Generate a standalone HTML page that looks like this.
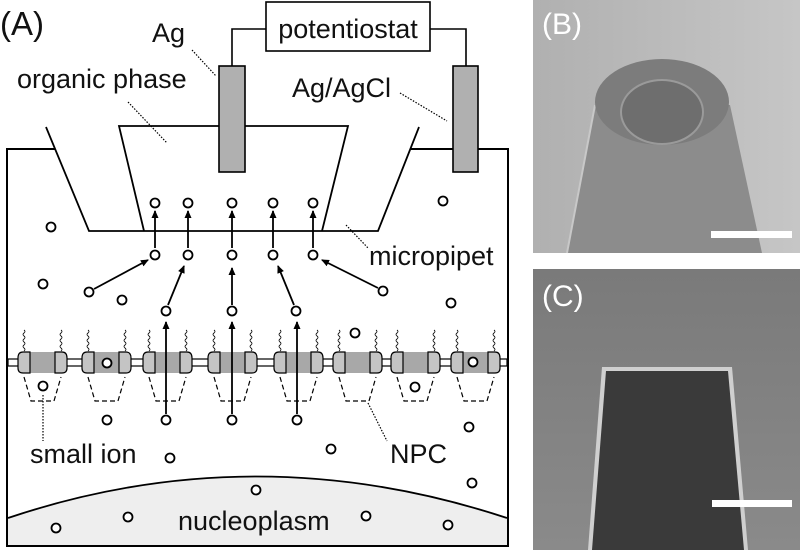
<!DOCTYPE html>
<html><head><meta charset="utf-8"><style>
html,body{margin:0;padding:0;background:#fff;}
svg{display:block;}
text{font-family:"Liberation Sans",Arial,sans-serif;fill:#111;}
</style></head><body>
<svg width="800" height="550" viewBox="0 0 800 550" xmlns="http://www.w3.org/2000/svg">
<defs>
<marker id="ah" markerWidth="8" markerHeight="8" refX="7" refY="4" orient="auto" markerUnits="userSpaceOnUse">
<path d="M0,0.5 L8,4 L0,7.5 Z" fill="#000"/></marker>
<g id="pore">
<rect x="6" y="352" width="37" height="21" fill="#a8a8a8"/>
<path d="M12,352 L5,352 Q0,352 0,358 L0,368 Q0,373 5,373 L12,373 Z" fill="#c4c4c4" stroke="#000" stroke-width="1.2"/>
<path d="M37,352 L44,352 Q49,352 49,358 L49,368 Q49,373 44,373 L37,373 Z" fill="#c4c4c4" stroke="#000" stroke-width="1.2"/>
<path d="M6,330 q2,1.5 0,3 q-2,1.5 0,3 q2,1.5 0,3 q-2,1.5 0,3 q2,1.5 0,3 q-2,1.5 0,3 q2,1.5 0,3" fill="none" stroke="#000" stroke-width="0.8"/>
<path d="M43,330 q2,1.5 0,3 q-2,1.5 0,3 q2,1.5 0,3 q-2,1.5 0,3 q2,1.5 0,3 q-2,1.5 0,3 q2,1.5 0,3" fill="none" stroke="#000" stroke-width="0.8"/>
<path d="M6,377 L13,401 L36,401 L43,377" fill="none" stroke="#000" stroke-width="1.2" stroke-dasharray="5,3"/>
</g>
</defs>

<!-- Panel A -->
<text x="0" y="35" font-size="33">(A)</text>
<rect x="7" y="149" width="501" height="397" fill="none" stroke="#000" stroke-width="2"/>
<!-- nucleoplasm -->
<path d="M8,518 Q255,435 507,518 L507,545 L8,545 Z" fill="#eeeeee" stroke="none"/>
<path d="M8,518 Q255,435 507,518" fill="none" stroke="#000" stroke-width="1.8"/>
<!-- micropipet -->
<path d="M46,127 L89,231 L378,231 L419,127" fill="#fff" stroke="#000" stroke-width="1.8"/>
<path d="M144,231 L119,126 L348,126 L322,231" fill="none" stroke="#000" stroke-width="1.8"/>
<!-- electrodes and wires -->
<path d="M232,66 L232,29 L266,29 M430,29 L466,29 L466,66" fill="none" stroke="#000" stroke-width="1.6"/>
<rect x="266" y="2" width="164" height="49" fill="#fff" stroke="#000" stroke-width="1.6"/>
<text x="348" y="38" font-size="27" text-anchor="middle">potentiostat</text>
<rect x="219" y="66" width="26" height="106" fill="#b0b0b0" stroke="#000" stroke-width="1.6"/>
<rect x="453" y="66" width="25" height="106" fill="#b0b0b0" stroke="#000" stroke-width="1.6"/>
<!-- leaders -->
<g stroke="#000" stroke-width="1.2" stroke-dasharray="1.5,1.5" fill="none">
<path d="M192,50 L216,76"/><path d="M128,102 L167,143"/><path d="M400,93 L447,121"/><path d="M346,225 L368,248"/>
<path d="M43,395 L43,441"/><path d="M368,403 L387,441"/>
</g>
<text x="152" y="42" font-size="27">Ag</text>
<text x="17" y="88" font-size="27">organic phase</text>
<text x="292" y="97" font-size="27">Ag/AgCl</text>
<text x="369" y="265" font-size="27">micropipet</text>
<text x="30" y="463" font-size="27">small ion</text>
<text x="390" y="463" font-size="27">NPC</text>
<text x="178" y="530" font-size="27">nucleoplasm</text>

<!-- membrane -->
<rect x="8" y="359" width="499" height="7" fill="#fff" stroke="#000" stroke-width="1.2"/>
<use href="#pore" x="18"/><use href="#pore" x="82"/><use href="#pore" x="143"/><use href="#pore" x="208"/>
<use href="#pore" x="274"/><use href="#pore" x="333"/><use href="#pore" x="391"/><use href="#pore" x="451"/>

<!-- arrows -->
<g stroke="#000" stroke-width="1.8" fill="none" marker-end="url(#ah)">
<path d="M155,248 L155,211"/><path d="M188,248 L188,211"/><path d="M232,248 L232,211"/><path d="M273,248 L273,211"/><path d="M313,248 L313,211"/>
<path d="M94,289 L148,260"/><path d="M168,305 L184,266"/><path d="M232,305 L232,268"/><path d="M294,305 L278,266"/><path d="M378,288 L322,260"/>
<path d="M166,414 L166,322"/><path d="M232,414 L232,322"/><path d="M297,414 L297,322"/>
</g>
<!-- ions -->
<g fill="#fff" stroke="#000" stroke-width="1.8">
<circle cx="155" cy="203" r="4.5"/><circle cx="188" cy="203" r="4.5"/><circle cx="232" cy="203" r="4.5"/><circle cx="273" cy="203" r="4.5"/><circle cx="313" cy="203" r="4.5"/>
<circle cx="155" cy="255" r="4.5"/><circle cx="188" cy="255" r="4.5"/><circle cx="232" cy="255" r="4.5"/><circle cx="273" cy="255" r="4.5"/><circle cx="313" cy="255" r="4.5"/>
<circle cx="89" cy="292" r="4.5"/><circle cx="166" cy="311" r="4.5"/><circle cx="232" cy="311" r="4.5"/><circle cx="296" cy="311" r="4.5"/><circle cx="383" cy="291" r="4.5"/>
<circle cx="51" cy="227" r="4.5"/><circle cx="43" cy="284" r="4.5"/><circle cx="122" cy="300" r="4.5"/><circle cx="443" cy="201" r="4.5"/><circle cx="451" cy="303" r="4.5"/>
<circle cx="355" cy="333" r="4.5"/><circle cx="107" cy="363" r="4.5"/><circle cx="473" cy="362" r="4.5"/><circle cx="43" cy="386" r="4.5"/><circle cx="415" cy="387" r="4.5"/>
<circle cx="107" cy="420" r="4.5"/><circle cx="166" cy="420" r="4.5"/><circle cx="232" cy="420" r="4.5"/><circle cx="297" cy="420" r="4.5"/><circle cx="469" cy="427" r="4.5"/>
<circle cx="170" cy="458" r="4.5"/><circle cx="331" cy="449" r="4.5"/><circle cx="472" cy="483" r="4.5"/><circle cx="256" cy="490" r="4.5"/>
<circle cx="128" cy="517" r="4.5"/><circle cx="56" cy="528" r="4.5"/><circle cx="366" cy="516" r="4.5"/><circle cx="448" cy="525" r="4.5"/>
</g>

<!-- Panel B -->
<defs>
<linearGradient id="bgB" x1="0" y1="0" x2="1" y2="0"><stop offset="0" stop-color="#b0b0b0"/><stop offset="1" stop-color="#c6c6c6"/></linearGradient>
<linearGradient id="bgC" x1="0" y1="0" x2="0" y2="1"><stop offset="0" stop-color="#7a7a7a"/><stop offset="1" stop-color="#8a8a8a"/></linearGradient>
</defs>
<rect x="533" y="0" width="267" height="253" fill="url(#bgB)"/>
<path d="M595,105 L567,253 L762,253 L730,105 Z" fill="#8c8c8c"/>
<path d="M595,105 L567,253" stroke="#c8c8c8" stroke-width="2"/>
<ellipse cx="662" cy="102" rx="67" ry="43" fill="#7c7c7c"/>
<ellipse cx="662" cy="112" rx="42" ry="33" fill="#9a9a9a"/>
<ellipse cx="662" cy="112" rx="40" ry="31" fill="#6e6e6e"/>
<rect x="711" y="231" width="81" height="7" fill="#fff"/>
<text x="542" y="34" font-size="30" style="fill:#fff">(B)</text>

<!-- Panel C -->
<rect x="533" y="269" width="267" height="281" fill="url(#bgC)"/>
<path d="M602,367 L732,367 L748,550 L588,550 Z" fill="#cfcfcf"/>
<path d="M606,371 L728,371 L744,550 L592,550 Z" fill="#3a3a3a"/>
<rect x="712" y="500" width="80" height="7" fill="#fff"/>
<text x="542" y="306" font-size="30" style="fill:#fff">(C)</text>
</svg>
</body></html>
